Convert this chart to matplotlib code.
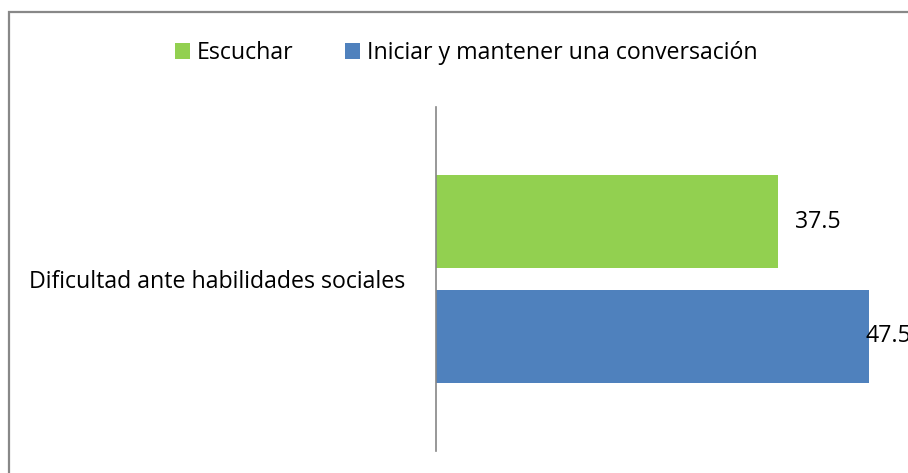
import matplotlib
matplotlib.use("Agg")
import matplotlib.pyplot as plt
from matplotlib.patches import Rectangle

plt.rcParams['font.family'] = ['Open Sans', 'DejaVu Sans']

# data
category = 'Dificultad ante habilidades sociales'
series_names = ['Escuchar', 'Iniciar y mantener una conversación']
values = [37.5, 47.5]
colors = ['#92D050', '#4F81BD']
label_dx = [17, -4]   # pixel offset of value labels from bar end

W, H = 908, 473
fs = 16.7
fig = plt.figure(figsize=(W / 100, H / 100), dpi=100)

# outer chart frame (runs off the right/bottom edge like the original crop)
fig.patches.append(Rectangle((8.5 / W, -0.1), 1.2, 1 - 12.5 / H + 0.1,
                             transform=fig.transFigure, fill=False,
                             edgecolor='#888888', linewidth=1.6))

ax = fig.add_axes([436 / W, 1 - 451 / H, (908 - 436) / W, (451 - 107) / H])
px_per_unit = 9.12
ax.set_xlim(0, (908 - 436) / px_per_unit)
ax.set_ylim(-0.5, 0.5)

bar_h = 93 / 344
offs = [57.5 / 344, -57.5 / 344]
for v, c, o, name, dx in zip(values, colors, offs, series_names, label_dx):
    ax.barh(o, v, height=bar_h, color=c, label=name)
    ax.annotate(f'{v}', xy=(v, o), xytext=(dx * 0.72, 0), textcoords='offset points',
                va='center', ha='left', fontsize=fs, color='black',
                annotation_clip=False)

for s in ['top', 'right', 'bottom']:
    ax.spines[s].set_visible(False)
ax.spines['left'].set_color('#868686')
ax.spines['left'].set_linewidth(1.2)
ax.set_xticks([])
ax.set_yticks([0])
ax.set_yticklabels([category], fontsize=fs)
ax.tick_params(axis='y', length=0, pad=22)

h, l = ax.get_legend_handles_labels()
fig.legend(h, l, loc='center', bbox_to_anchor=(466 / W, 1 - 53 / H), ncol=2,
           frameon=False, fontsize=fs, handlelength=0.65, handleheight=0.65,
           handletextpad=0.3, columnspacing=2.2)

fig.savefig('out.png', dpi=100)
